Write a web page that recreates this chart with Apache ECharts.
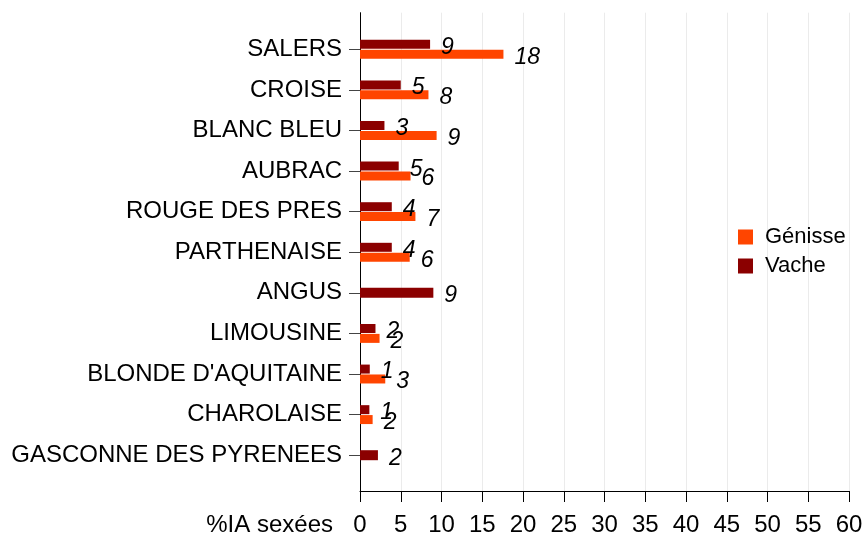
<!DOCTYPE html>
<html>
<head>
<meta charset="utf-8">
<script src="https://cdn.jsdelivr.net/npm/echarts@6/dist/echarts.min.js"></script>
<style>
  html, body { margin: 0; padding: 0; background: #fff; }
  #chart { width: 868px; height: 537px; }
</style>
</head>
<body>
<div id="chart"></div>
<script>
// races, du haut vers le bas
var races = ['SALERS', 'CROISE', 'BLANC BLEU', 'AUBRAC', 'ROUGE DES PRES', 'PARTHENAISE',
  'ANGUS', 'LIMOUSINE', "BLONDE D'AQUITAINE", 'CHAROLAISE', 'GASCONNE DES PYRENEES']
// %IA sexees
var vache = [8.6, 5.0, 3.0, 4.75, 3.9, 3.9, 9.0, 1.9, 1.2, 1.15, 2.2]
var genisse = [17.6, 8.4, 9.4, 6.2, 6.8, 6.1, null, 2.4, 3.1, 1.55, null]
var xTicks = { min: 0, max: 60, interval: 5 }

// quand il n'y a pas de genisse, la barre vache est centree sur la race
var vachePaire = vache.map(function (v, i) { return genisse[i] == null ? null : v })
var vacheSeule = vache.map(function (v, i) { return genisse[i] == null ? v : null })

var font = '"Liberation Sans", Arial, sans-serif'

var chart = echarts.init(document.getElementById('chart'))

function barLabel() {
  return {
    show: true,
    position: 'right',
    distance: 10,
    offset: [1, 3],
    color: '#000',
    fontSize: 23,
    fontStyle: 'italic',
    fontFamily: font,
    formatter: function (p) {
      return Math.round(p.value)
    }
  }
}

chart.setOption({
  animation: false,
  textStyle: { fontFamily: font },
  legend: {
    orient: 'vertical',
    left: 738,
    top: 226,
    padding: 0,
    itemWidth: 15,
    itemHeight: 15,
    itemGap: 7,
    icon: 'rect',
    data: ['Génisse', 'Vache'],
    textStyle: { color: '#000', fontSize: 22, fontFamily: font, padding: [0, 0, 0, 7] }
  },
  grid: [
    // bars
    { left: 360, right: 19, top: 29, bottom: 61.5 },
    // axis frame + grid lines
    { left: 360, right: 19, top: 12.7, bottom: 45 }
  ],
  xAxis: [
    {
      gridIndex: 0,
      type: 'value',
      min: xTicks.min,
      max: xTicks.max,
      interval: xTicks.interval,
      show: false
    },
    {
      gridIndex: 1,
      type: 'value',
      min: xTicks.min,
      max: xTicks.max,
      interval: xTicks.interval,
      name: '%IA sexées',
      nameLocation: 'start',
      nameGap: 27,
      nameTextStyle: {
        color: '#000', fontSize: 24, fontFamily: font,
        verticalAlign: 'top', padding: [22, 0, 0, 0]
      },
      axisLine: { show: true, lineStyle: { color: '#000', width: 1 } },
      axisTick: { show: true, length: 11, lineStyle: { color: '#000' } },
      axisLabel: { color: '#000', fontSize: 24, margin: 22, fontFamily: font },
      splitLine: { show: true, lineStyle: { color: '#ebebeb', width: 1 } }
    }
  ],
  yAxis: [
    {
      gridIndex: 0,
      type: 'category',
      inverse: true,
      data: races,
      axisLine: { show: false },
      axisTick: { show: true, alignWithLabel: true, length: 11, lineStyle: { color: '#444' } },
      axisLabel: { color: '#000', fontSize: 24, margin: 18, fontFamily: font }
    },
    {
      gridIndex: 1,
      type: 'value',
      axisLine: { show: true, lineStyle: { color: '#000', width: 1 } },
      axisTick: { show: false },
      axisLabel: { show: false },
      splitLine: { show: false }
    },
    {
      gridIndex: 0,
      type: 'category',
      inverse: true,
      data: races,
      show: false
    }
  ],
  series: [
    {
      name: 'Vache',
      type: 'bar',
      xAxisIndex: 0,
      yAxisIndex: 0,
      data: vachePaire,
      barWidth: 9,
      barGap: '10%',
      itemStyle: { color: '#8b0000' },
      label: barLabel()
    },
    {
      name: 'Génisse',
      type: 'bar',
      xAxisIndex: 0,
      yAxisIndex: 0,
      data: genisse,
      barWidth: 9,
      barGap: '10%',
      itemStyle: { color: '#ff4500' },
      label: barLabel()
    },
    {
      name: 'Vache',
      type: 'bar',
      xAxisIndex: 0,
      yAxisIndex: 2,
      data: vacheSeule,
      barWidth: 10,
      itemStyle: { color: '#8b0000' },
      label: barLabel()
    }
  ]
})
</script>
</body>
</html>
